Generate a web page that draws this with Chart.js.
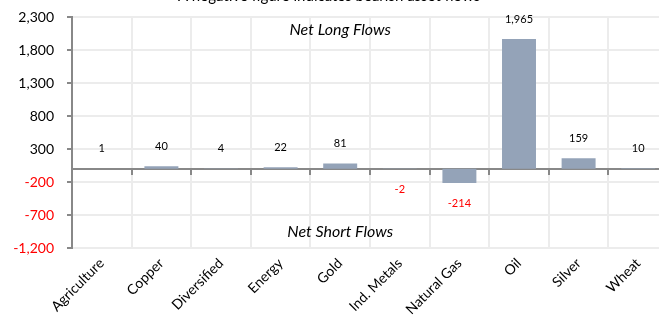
<!DOCTYPE html>
<html>
<head>
<meta charset="utf-8">
<script src="https://cdn.jsdelivr.net/npm/chart.js@4/dist/chart.umd.min.js"></script>
<style>
  html, body { margin: 0; padding: 0; background: #fff; overflow: hidden; width: 659px; height: 320px; }
  canvas { display: block; }
</style>
</head>
<body>
<canvas id="flowChart" width="672" height="320"></canvas>
<script>
const categories = ['Agriculture', 'Copper', 'Diversified', 'Energy', 'Gold', 'Ind. Metals', 'Natural Gas', 'Oil', 'Silver', 'Wheat']
const netFlows = [1, 40, 4, 22, 81, -2, -214, 1965, 159, 10]

const yMin = -1200
const yMax = 2300
const yStep = 500

const titleText = 'A negative figure indicates bearish asset flows'
// annotation text anchored to a category and a value on the y scale
const notes = [
  { text: 'Net Long Flows', category: 'Gold', value: 2100 },
  { text: 'Net Short Flows', category: 'Gold', value: -960 }
]

const FONT = 'Lato, "Open Sans", sans-serif'
const fmt = v => v.toLocaleString('en-US')

const barLabels = {
  id: 'barLabels',
  afterDatasetsDraw(chart) {
    const ctx = chart.ctx
    const meta = chart.getDatasetMeta(0)
    ctx.save()
    ctx.font = '11px ' + FONT
    ctx.textAlign = 'center'
    ctx.textBaseline = 'middle'
    meta.data.forEach((bar, i) => {
      const v = netFlows[i]
      ctx.fillStyle = v < 0 ? '#ff0000' : '#000'
      ctx.fillText(fmt(v), bar.x, v < 0 ? bar.y + 21 : bar.y - 20)
    })
    ctx.restore()
  }
}

const notesAndTitle = {
  id: 'notesAndTitle',
  afterDraw(chart) {
    const ctx = chart.ctx
    const x = chart.scales.x
    const y = chart.scales.y
    ctx.save()
    ctx.font = 'italic 16px ' + FONT
    ctx.fillStyle = '#000'
    ctx.textAlign = 'center'
    ctx.textBaseline = 'middle'
    notes.forEach(n => {
      ctx.fillText(n.text, x.getPixelForValue(categories.indexOf(n.category)), y.getPixelForValue(n.value))
    })
    ctx.font = '15px ' + FONT
    ctx.textBaseline = 'alphabetic'
    ctx.fillText(titleText, 329, 1)
    ctx.restore()
  }
}

new Chart(document.getElementById('flowChart'), {
  type: 'bar',
  data: {
    labels: categories,
    datasets: [{
      data: netFlows,
      backgroundColor: '#94a3b8',
      borderWidth: 0,
      barPercentage: 0.57,
      categoryPercentage: 1
    }]
  },
  options: {
    responsive: false,
    animation: false,
    layout: { padding: { top: 17, right: 4, left: 0, bottom: 0 } },
    plugins: {
      legend: { display: false },
      tooltip: { enabled: false }
    },
    scales: {
      x: {
        position: 'bottom',
        grid: { color: '#ececec', lineWidth: 2, drawTicks: false, offset: true },
        border: { display: false },
        ticks: {
          color: '#000',
          font: { family: FONT, size: 14 },
          minRotation: 45,
          maxRotation: 45,
          padding: 7,
          autoSkip: false
        },
        afterFit: s => { s.height = 72 }
      },
      x2: {
        type: 'category',
        position: { y: 0 },
        offset: true,
        grid: { drawOnChartArea: false, drawTicks: true, tickLength: 5, color: '#888888', lineWidth: 2, offset: true },
        border: { display: true, color: '#888888', width: 2 },
        ticks: { display: false },
        afterFit: s => { s.height = 0; s.paddingLeft = 0; s.paddingRight = 0 }
      },
      y: {
        min: yMin,
        max: yMax,
        grid: { color: '#ececec', lineWidth: 2, tickLength: 5, tickColor: '#888888' },
        border: { display: true, color: '#888888', width: 2 },
        ticks: {
          stepSize: yStep,
          padding: 13,
          font: { family: FONT, size: 14 },
          color: c => c.tick.value < 0 ? '#ff0000' : '#000',
          callback: v => fmt(v)
        },
        afterFit: s => { s.width = 72; s.paddingTop = 0; s.paddingBottom = 0 }
      }
    }
  },
  plugins: [barLabels, notesAndTitle]
})
</script>
</body>
</html>
